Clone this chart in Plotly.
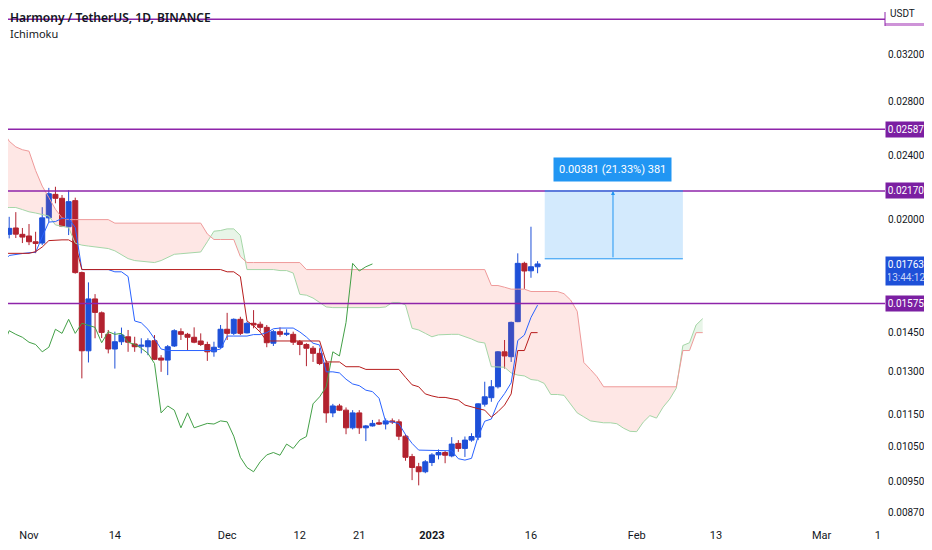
import numpy as np
import pandas as pd
import plotly.graph_objects as go

UP = "#1E50D8"
DOWN = "#B2222F"
PURPLE = "#8E24AA"

# daily candles ONE/USDT, 28 Oct 2022 .. 17 Jan 2023
candle_dates = pd.date_range("2022-10-28", "2023-01-17", freq="D")
opens = [0.01799, 0.01918, 0.01953, 0.01918, 0.01909, 0.01878, 0.01871, 0.02010, 0.02149, 0.02125,
         0.01960, 0.02111, 0.01720, 0.01377, 0.01596, 0.01534, 0.01443, 0.01384, 0.01413, 0.01433,
         0.01404, 0.01395, 0.01393, 0.01417, 0.01349, 0.01341, 0.01396, 0.01454, 0.01443, 0.01431,
         0.01416, 0.01402, 0.01373, 0.01391, 0.01464, 0.01447, 0.01506, 0.01449, 0.01489, 0.01485,
         0.01472, 0.01407, 0.01454, 0.01443, 0.01443, 0.01413, 0.01402, 0.01387, 0.01367, 0.01330,
         0.01154, 0.01177, 0.01163, 0.01106, 0.01154, 0.01106, 0.01112, 0.01122, 0.01118, 0.01128,
         0.01125, 0.01080, 0.01019, 0.00990, 0.00976, 0.01002, 0.01024, 0.01031, 0.01021, 0.01058,
         0.01043, 0.01068, 0.01077, 0.01183, 0.01205, 0.01243, 0.01373, 0.01354, 0.01496, 0.01766,
         0.01729, 0.01749]
highs = [0.01978, 0.02016, 0.02043, 0.01953, 0.01975, 0.01932, 0.02072, 0.02189, 0.02196, 0.02145,
         0.02175, 0.02129, 0.01725, 0.01673, 0.01618, 0.01540, 0.01461, 0.01454, 0.01471, 0.01461,
         0.01433, 0.01427, 0.01427, 0.01440, 0.01360, 0.01400, 0.01464, 0.01468, 0.01449, 0.01472,
         0.01447, 0.01413, 0.01413, 0.01482, 0.01534, 0.01510, 0.01517, 0.01496, 0.01546, 0.01496,
         0.01482, 0.01461, 0.01472, 0.01464, 0.01454, 0.01420, 0.01407, 0.01396, 0.01387, 0.01341,
         0.01184, 0.01184, 0.01172, 0.01163, 0.01163, 0.01115, 0.01131, 0.01133, 0.01136, 0.01136,
         0.01133, 0.01086, 0.01027, 0.01001, 0.01009, 0.01029, 0.01040, 0.01036, 0.01077, 0.01068,
         0.01079, 0.01089, 0.01186, 0.01261, 0.01267, 0.01376, 0.01420, 0.01496, 0.01817, 0.01774,
         0.01960, 0.01777]
lows = [0.01782, 0.01896, 0.01898, 0.01871, 0.01860, 0.01818, 0.01860, 0.01987, 0.02095, 0.01958,
        0.01914, 0.01715, 0.01273, 0.01332, 0.01427, 0.01428, 0.01367, 0.01309, 0.01400, 0.01373,
        0.01373, 0.01367, 0.01360, 0.01341, 0.01297, 0.01285, 0.01392, 0.01420, 0.01380, 0.01407,
        0.01396, 0.01338, 0.01354, 0.01386, 0.01420, 0.01440, 0.01440, 0.01447, 0.01468, 0.01454,
        0.01391, 0.01396, 0.01433, 0.01436, 0.01400, 0.01360, 0.01318, 0.01334, 0.01322, 0.01122,
        0.01140, 0.01160, 0.01086, 0.01101, 0.01087, 0.01065, 0.01110, 0.01115, 0.01101, 0.01118,
        0.01068, 0.01007, 0.00953, 0.00939, 0.00972, 0.00992, 0.01011, 0.01000, 0.01017, 0.01033,
        0.01018, 0.01063, 0.01068, 0.01175, 0.01191, 0.01237, 0.01309, 0.01334, 0.01494, 0.01642,
        0.01695, 0.01717]
closes = [0.01923, 0.01951, 0.01919, 0.01903, 0.01878, 0.01869, 0.02010, 0.02153, 0.02125, 0.01963,
          0.02105, 0.01720, 0.01377, 0.01596, 0.01536, 0.01451, 0.01384, 0.01413, 0.01440, 0.01411,
          0.01393, 0.01399, 0.01417, 0.01344, 0.01341, 0.01393, 0.01458, 0.01443, 0.01431, 0.01411,
          0.01402, 0.01373, 0.01391, 0.01464, 0.01447, 0.01506, 0.01447, 0.01489, 0.01482, 0.01472,
          0.01409, 0.01454, 0.01443, 0.01447, 0.01411, 0.01402, 0.01387, 0.01367, 0.01328, 0.01154,
          0.01177, 0.01163, 0.01106, 0.01154, 0.01106, 0.01112, 0.01120, 0.01118, 0.01128, 0.01125,
          0.01080, 0.01017, 0.00988, 0.00976, 0.01004, 0.01024, 0.01031, 0.01023, 0.01056, 0.01043,
          0.01068, 0.01079, 0.01184, 0.01208, 0.01243, 0.01373, 0.01357, 0.01493, 0.01766, 0.01728,
          0.01749, 0.01763]

# Ichimoku conversion / base lines, 27 Oct 2022 .. 17 Jan 2023
line_dates = pd.date_range("2022-10-27", "2023-01-17", freq="D")
tenkan = [0.01760, 0.01770, 0.01806, 0.01812, 0.01816, 0.01820, 0.01822, 0.01905, 0.01986, 0.01989,
          0.02007, 0.02007, 0.01956, 0.01735, 0.01735, 0.01735, 0.01735, 0.01735, 0.01724, 0.01724,
          0.01701, 0.01499, 0.01491, 0.01464, 0.01425, 0.01384, 0.01378, 0.01378, 0.01377, 0.01377,
          0.01379, 0.01378, 0.01378, 0.01378, 0.01384, 0.01436, 0.01436, 0.01436, 0.01436, 0.01442,
          0.01442, 0.01450, 0.01466, 0.01469, 0.01469, 0.01469, 0.01453, 0.01432, 0.01407, 0.01400,
          0.01297, 0.01297, 0.01293, 0.01270, 0.01253, 0.01247, 0.01231, 0.01226, 0.01203, 0.01125,
          0.01125, 0.01119, 0.01085, 0.01058, 0.01038, 0.01038, 0.01038, 0.01038, 0.01038, 0.01036,
          0.01013, 0.01009, 0.01014, 0.01079, 0.01127, 0.01134, 0.01188, 0.01219, 0.01257, 0.01418,
          0.01440, 0.01514, 0.01568]
kijun = [0.01817, 0.01817, 0.01817, 0.01817, 0.01817, 0.01817, 0.01826, 0.01850, 0.01884, 0.01888,
         0.01888, 0.01888, 0.01867, 0.01735, 0.01735, 0.01735, 0.01735, 0.01735, 0.01735, 0.01735,
         0.01735, 0.01735, 0.01735, 0.01735, 0.01735, 0.01735, 0.01735, 0.01735, 0.01735, 0.01735,
         0.01735, 0.01735, 0.01735, 0.01735, 0.01735, 0.01724, 0.01724, 0.01701, 0.01499, 0.01479,
         0.01452, 0.01416, 0.01416, 0.01416, 0.01416, 0.01416, 0.01416, 0.01416, 0.01416, 0.01416,
         0.01334, 0.01334, 0.01334, 0.01316, 0.01316, 0.01316, 0.01306, 0.01306, 0.01306, 0.01306,
         0.01306, 0.01306, 0.01277, 0.01250, 0.01243, 0.01218, 0.01211, 0.01206, 0.01206, 0.01202,
         0.01197, 0.01180, 0.01173, 0.01168, 0.01163, 0.01140, 0.01158, 0.01180, 0.01218, 0.01378,
         0.01378, 0.01450, 0.01450]

# leading spans (already displaced 25 days forward), 27 Oct 2022 .. 11 Feb 2023
cloud_dates = pd.date_range("2022-10-27", "2023-02-11", freq="D")
span_a = [0.02075, 0.02070, 0.02070, 0.02070, 0.02058, 0.02045, 0.02038, 0.02030, 0.02020, 0.01970,
          0.01962, 0.01955, 0.01870, 0.01860, 0.01855, 0.01850, 0.01846, 0.01842, 0.01830, 0.01810,
          0.01790, 0.01780, 0.01776, 0.01772, 0.01770, 0.01780, 0.01794, 0.01812, 0.01815, 0.01817,
          0.01819, 0.01824, 0.01878, 0.01935, 0.01939, 0.01948, 0.01948, 0.01912, 0.01735, 0.01735,
          0.01735, 0.01735, 0.01735, 0.01730, 0.01730, 0.01718, 0.01617, 0.01613, 0.01600, 0.01580,
          0.01560, 0.01557, 0.01557, 0.01556, 0.01556, 0.01557, 0.01557, 0.01557, 0.01557, 0.01560,
          0.01580, 0.01580, 0.01569, 0.01468, 0.01461, 0.01447, 0.01433, 0.01441, 0.01443, 0.01443,
          0.01443, 0.01435, 0.01424, 0.01412, 0.01408, 0.01316, 0.01316, 0.01314, 0.01293, 0.01285,
          0.01282, 0.01269, 0.01266, 0.01255, 0.01216, 0.01216, 0.01213, 0.01181, 0.01154, 0.01141,
          0.01128, 0.01125, 0.01122, 0.01122, 0.01119, 0.01105, 0.01095, 0.01094, 0.01124, 0.01145,
          0.01137, 0.01173, 0.01200, 0.01238, 0.01398, 0.01409, 0.01482, 0.01509]
span_b = [0.02620, 0.02580, 0.02500, 0.02460, 0.02440, 0.02430, 0.02300, 0.02200, 0.02130, 0.02060,
          0.02010, 0.02000, 0.02000, 0.02000, 0.02000, 0.02000, 0.02000, 0.02000, 0.01980, 0.01980,
          0.01980, 0.01980, 0.01980, 0.01980, 0.01980, 0.01980, 0.01980, 0.01980, 0.01980, 0.01980,
          0.01980, 0.01980, 0.01920, 0.01890, 0.01890, 0.01890, 0.01890, 0.01800, 0.01770, 0.01770,
          0.01770, 0.01770, 0.01770, 0.01770, 0.01770, 0.01770, 0.01770, 0.01735, 0.01735, 0.01735,
          0.01735, 0.01735, 0.01735, 0.01735, 0.01735, 0.01735, 0.01735, 0.01735, 0.01735, 0.01735,
          0.01735, 0.01735, 0.01735, 0.01735, 0.01735, 0.01735, 0.01735, 0.01735, 0.01735, 0.01735,
          0.01735, 0.01735, 0.01735, 0.01735, 0.01735, 0.01658, 0.01658, 0.01650, 0.01641, 0.01641,
          0.01641, 0.01630, 0.01630, 0.01630, 0.01630, 0.01630, 0.01620, 0.01591, 0.01541, 0.01332,
          0.01306, 0.01279, 0.01243, 0.01243, 0.01243, 0.01243, 0.01243, 0.01243, 0.01243, 0.01243,
          0.01243, 0.01243, 0.01243, 0.01243, 0.01378, 0.01378, 0.01450, 0.01450]
lag_days = 25  # lagging span is the close drawn 25 bars back

# drawings
levels = [0.03536, 0.02587, 0.02170, 0.01575]
level_labels = ["", "0.02587", "0.02170", "0.01575"]
last_price = 0.01763
countdown = "13:44:12"
measure_low = 0.01789
measure_high = 0.02170
measure_start = "2023-01-18 02:00"
measure_end = "2023-02-08 00:00"
measure_mid = "2023-01-28 10:00"
measure_text = "0.00381 (21.33%) 381"
measure_label_price = 0.02309

x_range = ["2022-10-28 19:40", "2023-03-10 14:24"]
y_range = [0.00846, 0.03652]
tick_dates = ["2022-11-01", "2022-11-14", "2022-12-01", "2022-12-12", "2022-12-21", "2023-01-01",
              "2023-01-16", "2023-02-01", "2023-02-13", "2023-03-01", "2023-03-09 12:00"]
tick_texts = ["Nov", "14", "Dec", "12", "21", "<b>2023</b>", "16", "Feb", "13", "Mar", "1"]
price_ticks = [0.0087, 0.0095, 0.0105, 0.0115, 0.013, 0.0145, 0.020, 0.024, 0.028, 0.032]

PH = 514  # plot height in px, used for paper positions
AXIS_FONT = dict(family="Roboto", size=10, color="#131722")

fig = go.Figure()

# cloud fill, red where B is above A and green where A is above B
t = ((cloud_dates - cloud_dates[0]) / pd.Timedelta(days=1)).to_numpy()
la = np.log10(span_a)
lb = np.log10(span_b)
runs = []
cur = None
for i in range(len(t)):
    up = la[i] >= lb[i]
    if cur is not None and up != cur[0]:
        d0 = la[i - 1] - lb[i - 1]
        d1 = la[i] - lb[i]
        f = d0 / (d0 - d1)
        tc = t[i - 1] + f * (t[i] - t[i - 1])
        yc = la[i - 1] + f * (la[i] - la[i - 1])
        cur[1].append((tc, yc))
        cur[2].append((tc, yc))
        runs.append(cur)
        cur = [up, [(tc, yc)], [(tc, yc)]]
    if cur is None:
        cur = [up, [], []]
    cur[1].append((t[i], la[i]))
    cur[2].append((t[i], lb[i]))
runs.append(cur)

for up, a_pts, b_pts in runs:
    pts = a_pts + b_pts[::-1]
    fig.add_trace(go.Scatter(
        x=[cloud_dates[0] + pd.Timedelta(days=float(p[0])) for p in pts],
        y=[10 ** p[1] for p in pts],
        mode="lines", fill="toself",
        fillcolor="rgba(76,175,80,0.13)" if up else "rgba(244,67,54,0.13)",
        line=dict(width=0), hoverinfo="skip", showlegend=False,
    ))

fig.add_trace(go.Scatter(x=cloud_dates, y=span_a, mode="lines",
                         line=dict(color="#A5D6A7", width=1), hoverinfo="skip", showlegend=False))
fig.add_trace(go.Scatter(x=cloud_dates, y=span_b, mode="lines",
                         line=dict(color="#EF9A9A", width=1), hoverinfo="skip", showlegend=False))

# lagging span
fig.add_trace(go.Scatter(x=candle_dates - pd.Timedelta(days=lag_days), y=closes, mode="lines",
                         line=dict(color="#43A047", width=1), hoverinfo="skip", showlegend=False))
fig.add_trace(go.Scatter(x=line_dates, y=tenkan, mode="lines",
                         line=dict(color="#2962FF", width=1), hoverinfo="skip", showlegend=False))
fig.add_trace(go.Scatter(x=line_dates, y=kijun, mode="lines",
                         line=dict(color="#B71C1C", width=1), hoverinfo="skip", showlegend=False))

fig.add_trace(go.Candlestick(
    x=candle_dates, open=opens, high=highs, low=lows, close=closes,
    increasing=dict(line=dict(color=UP, width=1), fillcolor=UP),
    decreasing=dict(line=dict(color=DOWN, width=1), fillcolor=DOWN),
    whiskerwidth=0, showlegend=False, hoverinfo="skip",
))

# horizontal levels
for lev in levels:
    fig.add_trace(go.Scatter(x=x_range, y=[lev, lev], mode="lines",
                             line=dict(color=PURPLE, width=1.5), hoverinfo="skip", showlegend=False))

# measure tool
fig.add_trace(go.Scatter(
    x=[measure_start, measure_end, measure_end, measure_start, measure_start],
    y=[measure_low, measure_low, measure_high, measure_high, measure_low],
    mode="lines", fill="toself", fillcolor="rgba(33,150,243,0.2)",
    line=dict(width=0), hoverinfo="skip", showlegend=False,
))
fig.add_trace(go.Scatter(
    x=[measure_start, measure_end, None, measure_start, measure_end],
    y=[measure_low, measure_low, None, measure_high, measure_high],
    mode="lines", line=dict(color="#2196F3", width=1), hoverinfo="skip", showlegend=False,
))

annotations = [
    dict(x=measure_mid, y=np.log10(measure_high), ax=measure_mid, ay=np.log10(measure_low),
         xref="x", yref="y", axref="x", ayref="y", text="", showarrow=True,
         arrowhead=2, arrowsize=0.8, arrowwidth=1, arrowcolor="#2196F3"),
    dict(x=measure_mid, y=np.log10(measure_label_price), xref="x", yref="y", text=measure_text,
         showarrow=False, bgcolor="#2196F3", borderpad=5,
         font=dict(family="Roboto", size=11, color="white")),
    dict(x=0, y=1 - 9 / PH, xref="paper", yref="paper", xanchor="left", yanchor="middle",
         text="Harmony / TetherUS, 1D, BINANCE", showarrow=False,
         font=dict(family="Noto Sans", size=12, color="#131722", weight=600)),
    dict(x=0, y=1 - 25 / PH, xref="paper", yref="paper", xanchor="left", yanchor="middle",
         text="Ichimoku", showarrow=False, font=dict(family="Noto Sans", size=11, color="#131722")),
    dict(x=1, y=1 - 6 / PH, xref="paper", yref="paper", xanchor="left", yanchor="middle",
         xshift=3, text="USDT", showarrow=False, bgcolor="white", font=AXIS_FONT),
    dict(x=1, y=np.log10(last_price), xref="paper", yref="y", xanchor="left", yanchor="top",
         yshift=8, text=f"{last_price:.5f}<br><span style='color:#C9D5F7'>{countdown}</span>",
         showarrow=False, bgcolor=UP, borderpad=2, width=36, align="center",
         font=dict(family="Roboto", size=10, color="white")),
]
for lev, lab in zip(levels, level_labels):
    if not lab:
        continue
    annotations.append(dict(x=1, y=np.log10(lev), xref="paper", yref="y", xanchor="left",
                            yanchor="middle", text=lab, showarrow=False, bgcolor="#7B1FA2",
                            borderpad=2, width=36, align="center",
                            font=dict(family="Roboto", size=10, color="white")))

# the page body adds an 8px margin, so the figure is sized to fit inside it
fig.update_layout(
    width=924, height=534,
    margin=dict(l=0, r=47, t=0, b=20),
    paper_bgcolor="white", plot_bgcolor="white",
    boxgap=0.2, boxgroupgap=0.05,
    annotations=annotations,
    shapes=[
        dict(type="rect", xref="paper", yref="paper", x0=1, x1=1.046,
             y0=1 - 18 / PH, y1=1 - 15 / PH, fillcolor="#CE93D8", line=dict(width=0)),
        dict(type="line", xref="paper", yref="paper", x0=1, x1=1,
             y0=1 - 18 / PH, y1=1 - 4 / PH, line=dict(color=PURPLE, width=1)),
    ],
    xaxis=dict(type="date", range=x_range, tickvals=tick_dates, ticktext=tick_texts,
               showgrid=False, zeroline=False, showline=False, ticks="",
               ticklabelstandoff=5, rangeslider=dict(visible=False),
               tickfont=dict(family="Roboto", size=11, color="#131722")),
    yaxis=dict(type="log", side="right", range=[np.log10(y_range[0]), np.log10(y_range[1])],
               tickvals=price_ticks, ticktext=[f"{v:.5f}" for v in price_ticks],
               showgrid=False, zeroline=False, showline=False, ticks="",
               ticklabelstandoff=2, tickfont=AXIS_FONT),
    hovermode=False,
)

fig.write_html("out.html")
